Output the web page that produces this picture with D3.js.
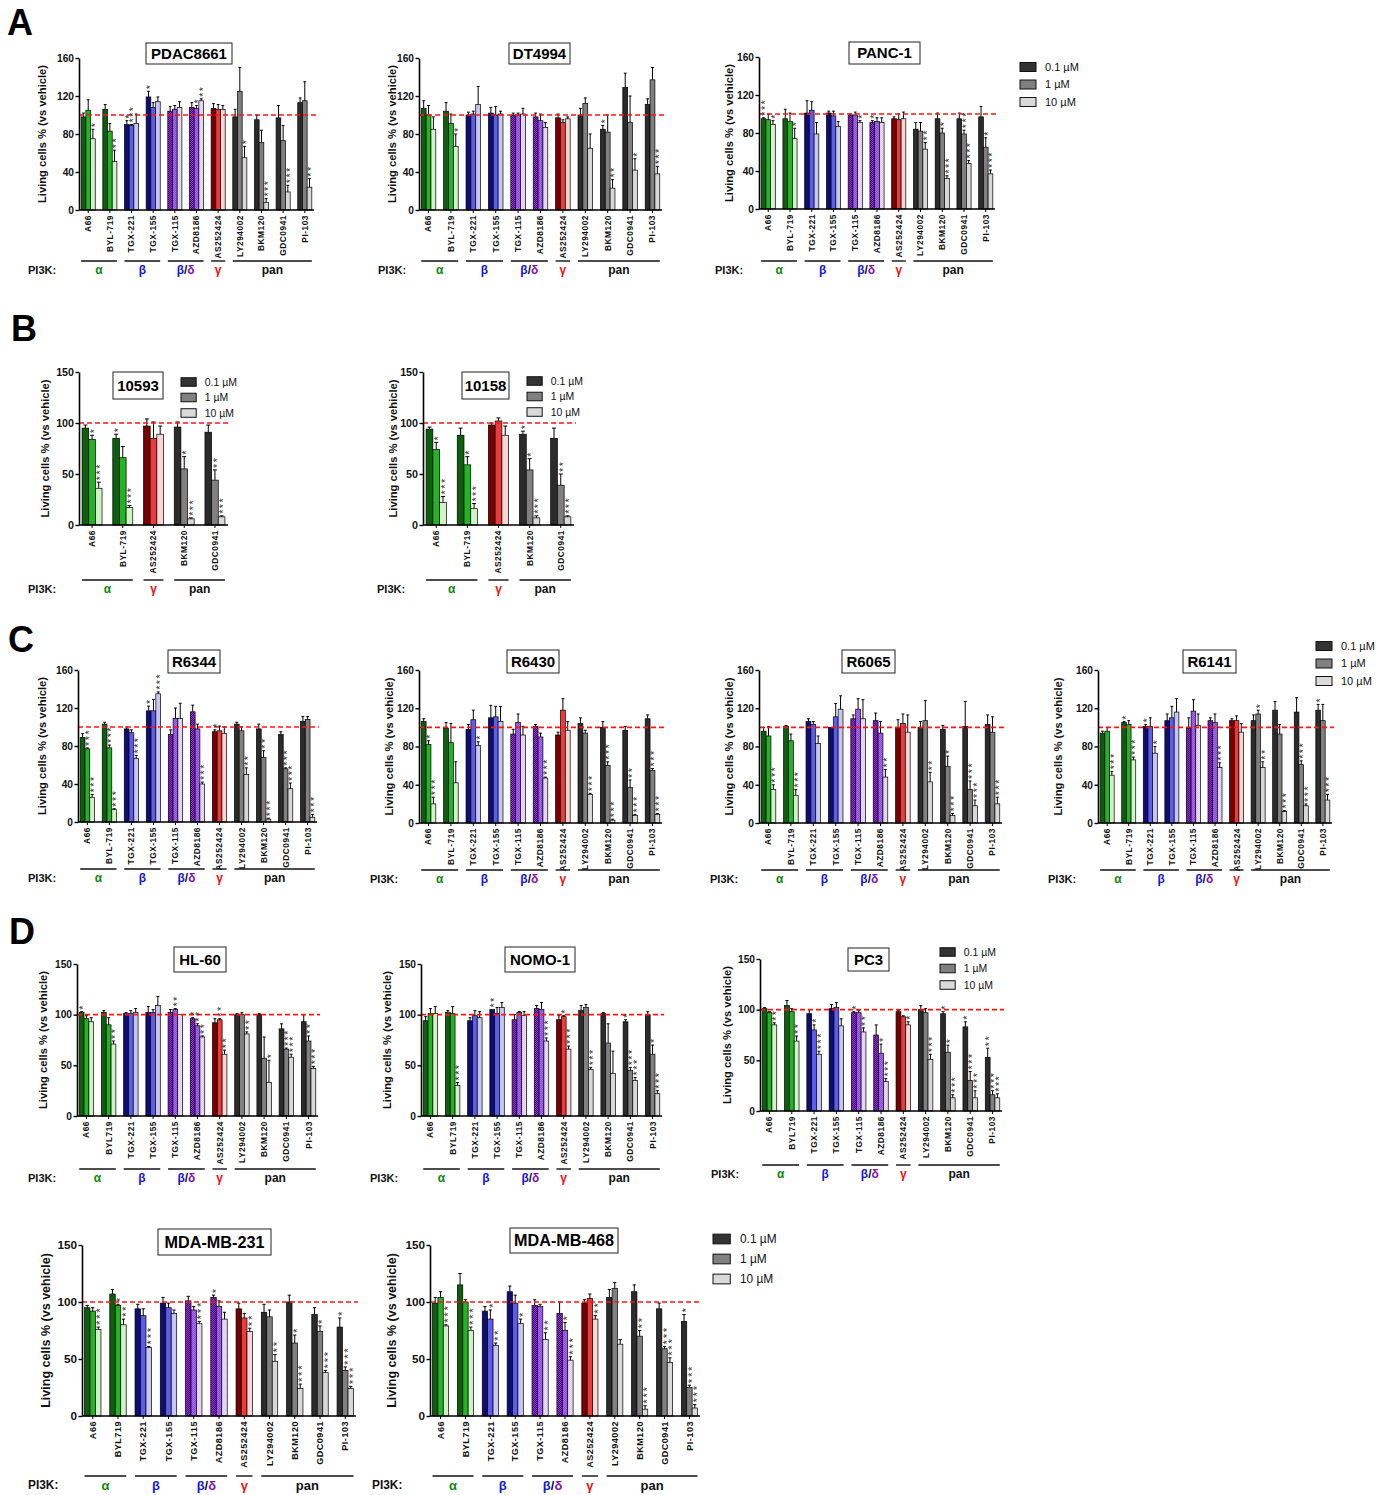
<!DOCTYPE html>
<html><head><meta charset="utf-8">
<script src="https://cdn.jsdelivr.net/npm/d3@7"></script>
<style>
body{margin:0;background:#fff}
svg{display:block}
text{font-family:"Liberation Sans",Arial,Helvetica,sans-serif}
</style>
</head><body>
<svg id="fig" width="1396" height="1495"></svg>
<script>
// ---- categories ----
const drugs11 = ["A66","BYL-719","TGX-221","TGX-155","TGX-115","AZD8186","AS252424","LY294002","BKM120","GDC0941","PI-103"];
const drugs11D = ["A66","BYL719","TGX-221","TGX-155","TGX-115","AZD8186","AS252424","LY294002","BKM120","GDC0941","PI-103"];
const drugs5 = ["A66","BYL-719","AS252424","BKM120","GDC0941"];
const class11 = ["a","a","b","b","bd","bd","g","p","p","p","p"];
const class5 = ["a","a","g","p","p"];
const doses = ["0.1 µM","1 µM","10 µM"];
const ticks160 = [0,40,80,120,160];
const ticks150 = [0,50,100,150];
const groups11 = [["α",0,1,"a"],["β",2,3,"b"],["β/δ",4,5,"bd"],["γ",6,6,"g"],["pan",7,10,"p"]];
const groups5 = [["α",0,1,"a"],["γ",2,2,"g"],["pan",3,4,"p"]];

// ---- series: mean living cells % (0.1, 1, 10 µM), upper error, significance stars ----
const pdac8661Mean = [[98,105,75],[106,83,51],[90,89,91],[119,108,114],[104,106,108],[108,107,115],[107,106,106],[98,125,55],[95,71,8],[97,73,19],[113,115,24]];
const pdac8661Err  = [[4,11,10],[5,8,12],[4,1,10],[6,5,5],[5,4,6],[5,3,2],[5,5,4],[8,25,12],[5,13,4],[13,16,7],[5,20,9]];
const pdac8661Sig  = [[0,0,1],[0,0,2],[1,3,0],[1,0,0],[0,0,0],[0,1,2],[0,0,0],[0,0,1],[0,0,3],[0,0,3],[0,0,2]];

const dt4994Mean = [[107,100,85],[104,91,67],[100,101,111],[102,100,101],[100,100,101],[98,94,87],[97,92,96],[100,112,65],[85,82,23],[129,92,42],[111,137,38]];
const dt4994Err  = [[8,10,13],[9,10,13],[3,3,19],[6,9,3],[2,2,6],[4,7,5],[4,3,2],[7,6,15],[4,18,9],[15,28,12],[6,13,8]];
const dt4994Sig  = [[0,0,0],[0,0,1],[0,0,0],[0,0,0],[0,0,0],[0,0,0],[0,0,0],[0,0,0],[1,0,2],[0,0,1],[0,0,3]];

const panc1Mean = [[95,94,89],[95,92,74],[101,104,79],[101,98,87],[99,99,91],[91,92,91],[95,94,95],[84,82,63],[95,80,32],[95,79,48],[97,65,37]];
const panc1Err  = [[1,6,4],[10,9,11],[13,9,12],[2,5,5],[1,3,2],[2,4,5],[2,6,7],[7,9,7],[6,5,3],[6,4,3],[11,10,4]];
const panc1Sig  = [[3,0,1],[0,0,1],[0,0,0],[0,0,0],[0,0,1],[1,0,0],[0,0,0],[0,0,2],[0,1,3],[0,3,3],[0,1,3]];

const c10593Mean = [[95,84,36],[85,66,17],[97,85,89],[96,55,6],[91,44,8]];
const c10593Err  = [[3,4,6],[4,11,2],[7,16,8],[5,12,1],[7,10,1]];
const c10593Sig  = [[0,1,3],[1,0,3],[0,0,0],[0,1,3],[0,2,3]];

const c10158Mean = [[94,74,22],[88,59,16],[98,102,88],[89,54,7],[85,39,8]];
const c10158Err  = [[2,7,6],[7,8,5],[2,3,9],[3,11,2],[10,11,1]];
const c10158Sig  = [[0,1,3],[0,1,3],[0,0,0],[1,1,3],[0,2,3]];

const r6344Mean = [[89,77,26],[103,78,13],[98,94,67],[117,117,135],[92,109,109],[116,98,40],[95,96,93],[103,96,50],[98,68,3],[92,56,35],[106,108,5]];
const r6344Err  = [[4,1,3],[2,3,1],[2,3,3],[5,12,2],[5,11,16],[7,5,2],[2,5,7],[2,4,7],[5,7,1],[3,1,6],[5,3,3]];
const r6344Sig  = [[0,3,3],[0,3,3],[0,0,3],[1,0,3],[0,0,0],[0,0,3],[1,0,0],[0,0,2],[0,2,3],[0,3,3],[0,0,3]];

const r6430Mean = [[106,82,20],[99,84,42],[98,108,81],[110,111,106],[93,105,92],[101,90,47],[92,118,97],[104,94,30],[100,60,3],[97,37,8],[109,55,9]];
const r6430Err  = [[3,4,7],[6,20,22],[5,10,4],[13,11,16],[5,9,9],[2,4,1],[3,12,9],[6,3,1],[6,4,1],[4,8,1],[4,2,1]];
const r6430Sig  = [[0,1,3],[0,0,0],[0,0,1],[0,0,0],[0,0,0],[0,0,3],[0,0,0],[0,0,3],[0,3,3],[0,2,3],[0,3,3]];

const r6065Mean = [[96,91,35],[101,86,29],[106,103,83],[100,111,119],[109,119,109],[107,94,48],[100,104,95],[100,107,43],[98,59,8],[101,35,18],[103,95,20]];
const r6065Err  = [[4,10,5],[1,7,6],[3,3,8],[0,14,14],[4,11,20],[8,12,8],[8,10,18],[6,21,10],[4,11,2],[26,9,6],[10,16,7]];
const r6065Sig  = [[0,0,3],[0,0,3],[0,0,0],[0,0,0],[0,0,0],[0,0,2],[0,0,0],[0,0,2],[0,1,3],[0,3,3],[0,0,3]];

const r6141Mean = [[94,96,50],[105,103,66],[101,101,73],[107,110,116],[99,117,102],[107,105,58],[107,107,95],[107,114,58],[118,93,12],[116,61,18],[118,107,24]];
const r6141Err  = [[2,4,4],[1,4,3],[2,9,7],[7,12,14],[11,12,12],[3,9,5],[2,5,9],[6,4,6],[9,10,1],[15,4,2],[6,17,6]];
const r6141Sig  = [[0,0,3],[1,0,3],[1,0,1],[0,0,0],[0,0,0],[0,0,3],[0,0,0],[0,1,2],[0,0,3],[0,3,3],[1,0,3]];

const hl60Mean = [[102,96,93],[102,90,71],[101,101,102],[102,102,109],[102,105,100],[96,89,78],[92,95,61],[100,100,81],[100,57,33],[86,66,58],[93,74,47]];
const hl60Err  = [[1,3,4],[2,7,3],[1,3,4],[6,3,9],[3,1,0],[1,2,1],[4,1,4],[1,2,2],[1,21,22],[5,1,3],[7,5,2]];
const hl60Sig  = [[1,0,0],[0,0,2],[0,0,0],[0,0,0],[0,2,0],[1,2,2],[0,2,2],[0,0,2],[0,0,1],[0,3,3],[0,2,3]];

const nomo1Mean = [[94,101,101],[102,101,30],[94,99,97],[105,101,107],[95,102,99],[106,105,74],[95,98,66],[104,107,46],[101,72,42],[93,45,35],[100,61,22]];
const nomo1Err  = [[4,5,7],[2,7,3],[3,5,6],[0,6,5],[5,1,4],[3,7,3],[4,1,3],[5,3,2],[1,19,22],[2,3,3],[3,9,3]];
const nomo1Sig  = [[0,0,0],[0,0,3],[0,0,0],[2,0,0],[0,0,0],[0,0,3],[0,1,3],[0,0,3],[0,0,0],[1,3,3],[0,1,3]];

const pc3Mean = [[101,97,85],[104,98,69],[96,80,56],[101,102,84],[97,97,78],[75,57,29],[98,93,85],[100,97,51],[96,58,13],[83,30,13],[53,16,13]];
const pc3Err  = [[1,1,2],[5,3,5],[4,5,3],[4,5,7],[1,2,4],[10,9,3],[1,1,3],[4,4,5],[2,7,3],[5,9,7],[9,4,4]];
const pc3Sig  = [[0,0,2],[0,0,2],[0,1,3],[0,0,0],[1,0,2],[0,1,3],[0,0,1],[0,0,3],[1,1,3],[1,3,3],[2,3,3]];

const mda231Mean = [[95,92,76],[107,97,80],[94,88,60],[99,95,90],[101,93,81],[104,96,85],[94,86,74],[91,87,48],[100,64,24],[89,74,38],[78,40,24]];
const mda231Err  = [[2,3,2],[4,1,5],[4,6,1],[5,4,3],[4,3,2],[2,5,6],[5,4,3],[7,6,6],[6,7,4],[6,5,2],[8,3,2]];
const mda231Sig  = [[0,0,3],[0,1,2],[0,0,3],[0,0,0],[0,0,3],[1,0,0],[0,0,2],[0,0,2],[0,1,3],[0,1,3],[1,3,3]];

const mda468Mean = [[99,104,79],[115,100,75],[92,85,62],[109,99,81],[97,96,67],[90,75,49],[99,103,85],[104,112,63],[109,70,6],[94,59,47],[83,25,7]];
const mda468Err  = [[5,5,1],[10,2,3],[4,8,2],[5,7,4],[5,2,6],[10,7,3],[3,4,3],[7,5,4],[6,5,3],[5,2,4],[6,2,3]];
const mda468Sig  = [[0,0,3],[0,0,3],[0,1,2],[0,0,1],[0,0,2],[0,1,3],[0,0,2],[0,0,0],[0,2,3],[0,3,3],[1,3,3]];

// ---- drawing ----
const svg = d3.select("#fig");
const defs = svg.append("defs");
function checker(id, a, b) {
  const p = defs.append("pattern").attr("id", id)
    .attr("patternUnits", "userSpaceOnUse").attr("width", 2).attr("height", 2);
  p.append("rect").attr("width", 2).attr("height", 2).attr("fill", a);
  p.append("rect").attr("width", 1).attr("height", 1).attr("fill", b);
  p.append("rect").attr("x", 1).attr("y", 1).attr("width", 1).attr("height", 1).attr("fill", b);
}
checker("bd0", "#1c1c9c", "#c21fb8");
checker("bd1", "#7f4ef0", "#b462e8");
checker("bd2", "#dccdf6", "#f0dcf0");

const palette = {
  a: ["#0d5e0d", "#22b422", "#cdf3c6"],
  b: ["#0e0e72", "#5c5cf0", "#c6c6f4"],
  bd: ["url(#bd0)", "url(#bd1)", "url(#bd2)"],
  g: ["#780000", "#f03a3a", "#f8d4d4"],
  p: ["#2b2b2b", "#808080", "#d8d8d8"]
};
const legendFill = ["#333333", "#808080", "#dadada"];
const groupColor = { a: "#118a11", b: "#1414d8", g: "#ee1111", p: "#111" };
const FONT = "'Liberation Sans',Arial,sans-serif";

function panel(c) {
  const s = c.scale || 1;
  const g = svg.append("g");
  const x = d3.scaleBand().domain(c.drugs).range([c.x0, c.x1]).paddingInner(0.35).paddingOuter(0.1);
  const y = d3.scaleLinear().domain([0, c.max]).range([c.yBot, c.yTop]);
  const sub = d3.scaleBand().domain([0, 1, 2]).range([0, x.bandwidth()]);
  const bw = sub.bandwidth();

  // bars with upper error bars
  c.drugs.forEach((d, i) => {
    const cls = c.classes[i];
    [0, 1, 2].forEach(k => {
      const v = c.mean[i][k], e = c.err[i][k];
      const bx = x(d) + sub(k), cx = bx + bw / 2;
      g.append("rect").attr("x", bx).attr("y", y(v)).attr("width", bw)
        .attr("height", y(0) - y(v)).attr("fill", palette[cls][k])
        .attr("stroke", "#000").attr("stroke-width", 0.7);
      if (e > 0) {
        g.append("line").attr("x1", cx).attr("x2", cx).attr("y1", y(v)).attr("y2", y(v + e))
          .attr("stroke", "#000").attr("stroke-width", 1);
        g.append("line").attr("x1", cx - bw * 0.3).attr("x2", cx + bw * 0.3)
          .attr("y1", y(v + e)).attr("y2", y(v + e)).attr("stroke", "#000").attr("stroke-width", 1);
      }
    });
  });

  // reference line at 100 %
  g.append("line").attr("x1", c.x0).attr("x2", c.x1 + 2).attr("y1", y(100)).attr("y2", y(100))
    .attr("stroke", "#ff1414").attr("stroke-width", 1.6).attr("stroke-dasharray", "5,3");

  // significance stars: one vertical run of asterisks above each bar
  c.drugs.forEach((d, i) => {
    [0, 1, 2].forEach(k => {
      const n = c.sig[i][k];
      if (!n) return;
      const cx = x(d) + sub(k) + bw / 2;
      const top = y(c.mean[i][k] + c.err[i][k]);
      g.append("text").attr("transform", `translate(${cx},${top - 2}) rotate(-90)`)
        .attr("dy", "0.55em").attr("font-size", 10.5 * s).attr("letter-spacing", 1.6 * s)
        .attr("fill", "#333").text("*".repeat(n));
    });
  });

  // y axis
  const ya = g.append("g").attr("transform", `translate(${c.x0},0)`)
    .call(d3.axisLeft(y).tickValues(c.ticks).tickSize(3.5).tickPadding(1.5).tickSizeOuter(0).tickFormat(d3.format("d")));
  ya.select(".domain").attr("stroke-width", 1.6);
  ya.selectAll(".tick line").attr("stroke-width", 1.4);
  ya.selectAll("text").attr("font-size", 10.2 * (c.tickScale || s)).attr("font-weight", "bold").attr("fill", "#111")
    .style("font-family", FONT);

  // x axis with rotated drug names
  const xa = g.append("g").attr("transform", `translate(0,${c.yBot})`)
    .call(d3.axisBottom(x).tickSize(3).tickSizeOuter(0));
  xa.select(".domain").attr("stroke-width", 1.6).attr("d", `M${c.x0},0H${c.x1}`);
  xa.selectAll(".tick line").attr("stroke-width", 1);
  xa.selectAll("text").attr("transform", "rotate(-90)").attr("x", -5).attr("y", 0).attr("dy", "0.35em")
    .style("text-anchor", "end").attr("font-size", 8.4 * s).attr("letter-spacing", 0.5)
    .attr("font-weight", "bold").attr("fill", "#111").style("font-family", FONT);

  // y label
  g.append("text").attr("transform", `translate(${c.ylx},${(c.yTop + c.yBot) / 2}) rotate(-90)`)
    .attr("text-anchor", "middle").attr("dy", "0.35em").attr("font-size", 11.2 * (c.ylScale || s))
    .attr("font-weight", "bold").attr("fill", "#111").text("Living cells % (vs vehicle)");

  // title box
  const tb = c.tbox;
  g.append("rect").attr("x", tb[0]).attr("y", tb[1]).attr("width", tb[2]).attr("height", tb[3])
    .attr("fill", "#fff").attr("stroke", "#222").attr("stroke-width", 1);
  g.append("text").attr("x", tb[0] + tb[2] / 2).attr("y", tb[1] + tb[3] / 2).attr("dy", "0.36em")
    .attr("text-anchor", "middle").attr("font-size", 15 * s).attr("font-weight", "bold").text(c.title);

  // PI3K class brackets
  g.append("text").attr("x", c.pix).attr("y", c.gy + 9).attr("dy", "0.35em")
    .attr("font-size", 11 * s).attr("font-weight", "bold").attr("fill", "#111").text("PI3K:");
  c.groups.forEach(([name, a, b, key]) => {
    const xs = x(c.drugs[a]), xe = x(c.drugs[b]) + x.bandwidth();
    g.append("line").attr("x1", xs).attr("x2", xe).attr("y1", c.gy).attr("y2", c.gy)
      .attr("stroke", "#111").attr("stroke-width", 1.4);
    const t = g.append("text").attr("x", (xs + xe) / 2).attr("y", c.gy + 9).attr("dy", "0.35em")
      .attr("text-anchor", "middle").attr("font-size", 12 * s).attr("font-weight", "bold");
    if (key === "bd") {
      t.append("tspan").attr("fill", groupColor.b).text("β");
      t.append("tspan").attr("fill", "#111").text("/");
      t.append("tspan").attr("fill", "#8a10a8").text("δ");
    } else {
      t.attr("fill", groupColor[key]).text(name);
    }
  });

  // legend
  if (c.legend) {
    const [lx, ly, dy, ls] = c.legend;
    doses.forEach((lab, k) => {
      g.append("rect").attr("x", lx).attr("y", ly + k * dy - 4.5 * ls).attr("width", 16 * ls).attr("height", 9 * ls)
        .attr("fill", legendFill[k]).attr("stroke", "#111").attr("stroke-width", 1);
      g.append("text").attr("x", lx + 25 * ls).attr("y", ly + k * dy).attr("dy", "0.35em")
        .attr("font-size", 11 * ls).attr("fill", "#111").text(lab);
    });
  }
}

// panel letters
[["A", 7, 35], ["B", 11, 341], ["C", 8, 652], ["D", 9, 944]].forEach(([t, px, py]) =>
  svg.append("text").attr("x", px).attr("y", py).attr("font-size", 36).attr("font-weight", "bold").text(t));

const panels = [
  { title: "PDAC8661", drugs: drugs11, classes: class11, groups: groups11, mean: pdac8661Mean, err: pdac8661Err, sig: pdac8661Sig,
    x0: 79, x1: 314, yTop: 58, yBot: 210, max: 160, ticks: ticks160, ylx: 42, tbox: [146, 43, 86, 21], pix: 28, gy: 261 },
  { title: "DT4994", drugs: drugs11, classes: class11, groups: groups11, mean: dt4994Mean, err: dt4994Err, sig: dt4994Sig,
    x0: 419, x1: 662, yTop: 58, yBot: 210, max: 160, ticks: ticks160, ylx: 392, tbox: [509, 43, 61, 21], pix: 378, gy: 261 },
  { title: "PANC-1", drugs: drugs11, classes: class11, groups: groups11, mean: panc1Mean, err: panc1Err, sig: panc1Sig,
    x0: 759, x1: 995, yTop: 57, yBot: 209, max: 160, ticks: ticks160, ylx: 729, tbox: [849, 42, 71, 22], pix: 715, gy: 261,
    legend: [1020, 67, 17.5, 1] },
  { title: "10593", drugs: drugs5, classes: class5, groups: groups5, mean: c10593Mean, err: c10593Err, sig: c10593Sig,
    x0: 79, x1: 228, yTop: 372, yBot: 525, max: 150, ticks: ticks150, ylx: 45, tbox: [113, 372, 50, 27], pix: 28, gy: 580,
    legend: [181, 382, 15.5, 0.95], tickScale: 1.05 },
  { title: "10158", drugs: drugs5, classes: class5, groups: groups5, mean: c10158Mean, err: c10158Err, sig: c10158Sig,
    x0: 423, x1: 574, yTop: 372, yBot: 525, max: 150, ticks: ticks150, ylx: 393, tbox: [462, 372, 47, 27], pix: 377, gy: 580,
    legend: [527, 381, 15.5, 0.95], tickScale: 1.05 },
  { title: "R6344", drugs: drugs11, classes: class11, groups: groups11, mean: r6344Mean, err: r6344Err, sig: r6344Sig,
    x0: 78, x1: 317, yTop: 670, yBot: 822, max: 160, ticks: ticks160, ylx: 42, tbox: [168, 650, 52, 23], pix: 28, gy: 869 },
  { title: "R6430", drugs: drugs11, classes: class11, groups: groups11, mean: r6430Mean, err: r6430Err, sig: r6430Sig,
    x0: 419, x1: 662, yTop: 670, yBot: 823, max: 160, ticks: ticks160, ylx: 389, tbox: [507, 650, 52, 23], pix: 370, gy: 870 },
  { title: "R6065", drugs: drugs11, classes: class11, groups: groups11, mean: r6065Mean, err: r6065Err, sig: r6065Sig,
    x0: 759, x1: 1002, yTop: 670, yBot: 823, max: 160, ticks: ticks160, ylx: 729, tbox: [842, 650, 53, 23], pix: 710, gy: 870 },
  { title: "R6141", drugs: drugs11, classes: class11, groups: groups11, mean: r6141Mean, err: r6141Err, sig: r6141Sig,
    x0: 1098, x1: 1332, yTop: 670, yBot: 823, max: 160, ticks: ticks160, ylx: 1058, tbox: [1183, 650, 53, 23], pix: 1048, gy: 870,
    legend: [1316, 646, 17.5, 1] },
  { title: "HL-60", drugs: drugs11D, classes: class11, groups: groups11, mean: hl60Mean, err: hl60Err, sig: hl60Sig,
    x0: 77, x1: 318, yTop: 964, yBot: 1116, max: 150, ticks: ticks150, ylx: 43, tbox: [174, 947, 52, 25], pix: 28, gy: 1169 },
  { title: "NOMO-1", drugs: drugs11D, classes: class11, groups: groups11, mean: nomo1Mean, err: nomo1Err, sig: nomo1Sig,
    x0: 421, x1: 662, yTop: 964, yBot: 1116, max: 150, ticks: ticks150, ylx: 387, tbox: [505, 947, 70, 25], pix: 370, gy: 1169 },
  { title: "PC3", drugs: drugs11D, classes: class11, groups: groups11, mean: pc3Mean, err: pc3Err, sig: pc3Sig,
    x0: 760, x1: 1002, yTop: 959, yBot: 1111, max: 150, ticks: ticks150, ylx: 727, tbox: [848, 948, 41, 23], pix: 711, gy: 1165,
    legend: [940, 952, 16.5, 0.95] },
  { title: "MDA-MB-231", drugs: drugs11D, classes: class11, groups: groups11, mean: mda231Mean, err: mda231Err, sig: mda231Sig,
    x0: 82, x1: 356, yTop: 1245, yBot: 1416, max: 150, ticks: ticks150, ylx: 46, tbox: [158, 1229, 113, 26], pix: 28, gy: 1476,
    scale: 1.08, tickScale: 1.15, ylScale: 1.12 },
  { title: "MDA-MB-468", drugs: drugs11D, classes: class11, groups: groups11, mean: mda468Mean, err: mda468Err, sig: mda468Sig,
    x0: 430, x1: 700, yTop: 1245, yBot: 1416, max: 150, ticks: ticks150, ylx: 392, tbox: [510, 1228, 108, 25], pix: 372, gy: 1476,
    legend: [713, 1239, 20, 1.08], scale: 1.08, tickScale: 1.15, ylScale: 1.12 }
];
panels.forEach(panel);
</script>
</body></html>
